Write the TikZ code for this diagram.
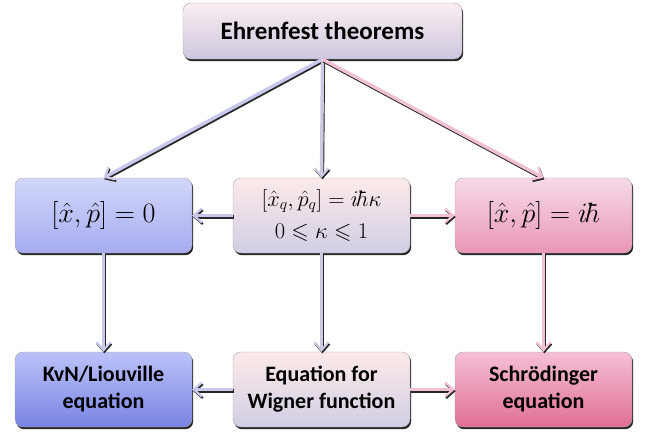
\RequirePackage{fix-cm}
\documentclass[tikz,border=0pt]{standalone}
\usepackage{amssymb}
\usepackage{fontspec}
\setmainfont{Carlito}
\usetikzlibrary{arrows.meta,shadows}
\definecolor{topT}{HTML}{FAEEF2}\definecolor{topB}{HTML}{CEC6DE}
\definecolor{lmT}{HTML}{D2D6FA}\definecolor{lmB}{HTML}{A6ACF0}
\definecolor{cT}{HTML}{FCEAEA}\definecolor{cB}{HTML}{D2CEE4}
\definecolor{rmT}{HTML}{F6DAE8}\definecolor{rmB}{HTML}{EA96B6}
\definecolor{lbT}{HTML}{BCC2F8}\definecolor{lbB}{HTML}{7884E4}
\definecolor{rbT}{HTML}{F6C0D6}\definecolor{rbB}{HTML}{E06E96}
\definecolor{lav}{HTML}{C8C8EC}
\definecolor{grl}{HTML}{CCCAE2}
\definecolor{pnk}{HTML}{F2C0D4}
\tikzset{
  box/.style={rounded corners=8pt, draw=black!35, line width=0.4pt,
    shading=axis, top color=#1T, bottom color=#1B,
    drop shadow={shadow xshift=1.2pt, shadow yshift=-2.2pt, opacity=0.85, fill=black},
    minimum width=177pt, minimum height=75pt, align=center, inner sep=2pt},
  conn/.style={line width=3.4pt, draw=#1,
    -{Straight Barb[length=8pt,width=14pt,line width=2.2pt]},
    preaction={draw=black!85, line width=3.4pt, transform canvas={shift={(0.9pt,-1.6pt)}}}},
  ttl/.style={font=\bfseries\fontsize{25}{28}\selectfont},
  btxt/.style={font=\bfseries\fontsize{22}{27}\selectfont},
  bigmath/.style={font=\fontsize{28}{30}\selectfont},
  midmath/.style={font=\fontsize{22.5}{34}\selectfont},
}
\begin{document}
\begin{tikzpicture}[x=1pt,y=-1pt]
\useasboundingbox (0,0) rectangle (657,437);
\node[box=top, minimum width=279pt, minimum height=56pt, ttl] (top) at (322.5,31) {Ehrenfest theorems};
\node[box=lm, bigmath] (lm) at (103.5,215.5) {$[\hat{x},\hat{p}]=0$};
\node[box=c, midmath] (cm) at (321.5,215.5) {$[\hat{x}_q,\hat{p}_q]=i\hbar\kappa$\\[-2pt]$0\leqslant\kappa\leqslant 1$};
\node[box=rm, bigmath] (rm) at (543.5,215.5) {$[\hat{x},\hat{p}]=i\hbar$};
\node[box=lb, btxt] (lb) at (103.5,389.5) {KvN/Liouville\\equation};
\node[box=c, btxt] (cb) at (321.5,389.5) {Equation for\\Wigner function};
\node[box=rb, btxt] (rb) at (543.5,389.5) {Schrödinger\\equation};
\draw[conn=lav] (top.south) -- (lm.north);
\draw[conn=grl] (top.south) -- (cm.north);
\draw[conn=pnk] (top.south) -- (rm.north);
\draw[conn=lav] (cm.west) -- (lm.east);
\draw[conn=pnk] (cm.east) -- (rm.west);
\draw[conn=lav] (lm.south) -- (lb.north);
\draw[conn=grl] (cm.south) -- (cb.north);
\draw[conn=pnk] (rm.south) -- (rb.north);
\draw[conn=lav] (cb.west) -- (lb.east);
\draw[conn=pnk] (cb.east) -- (rb.west);
\end{tikzpicture}
\end{document}
